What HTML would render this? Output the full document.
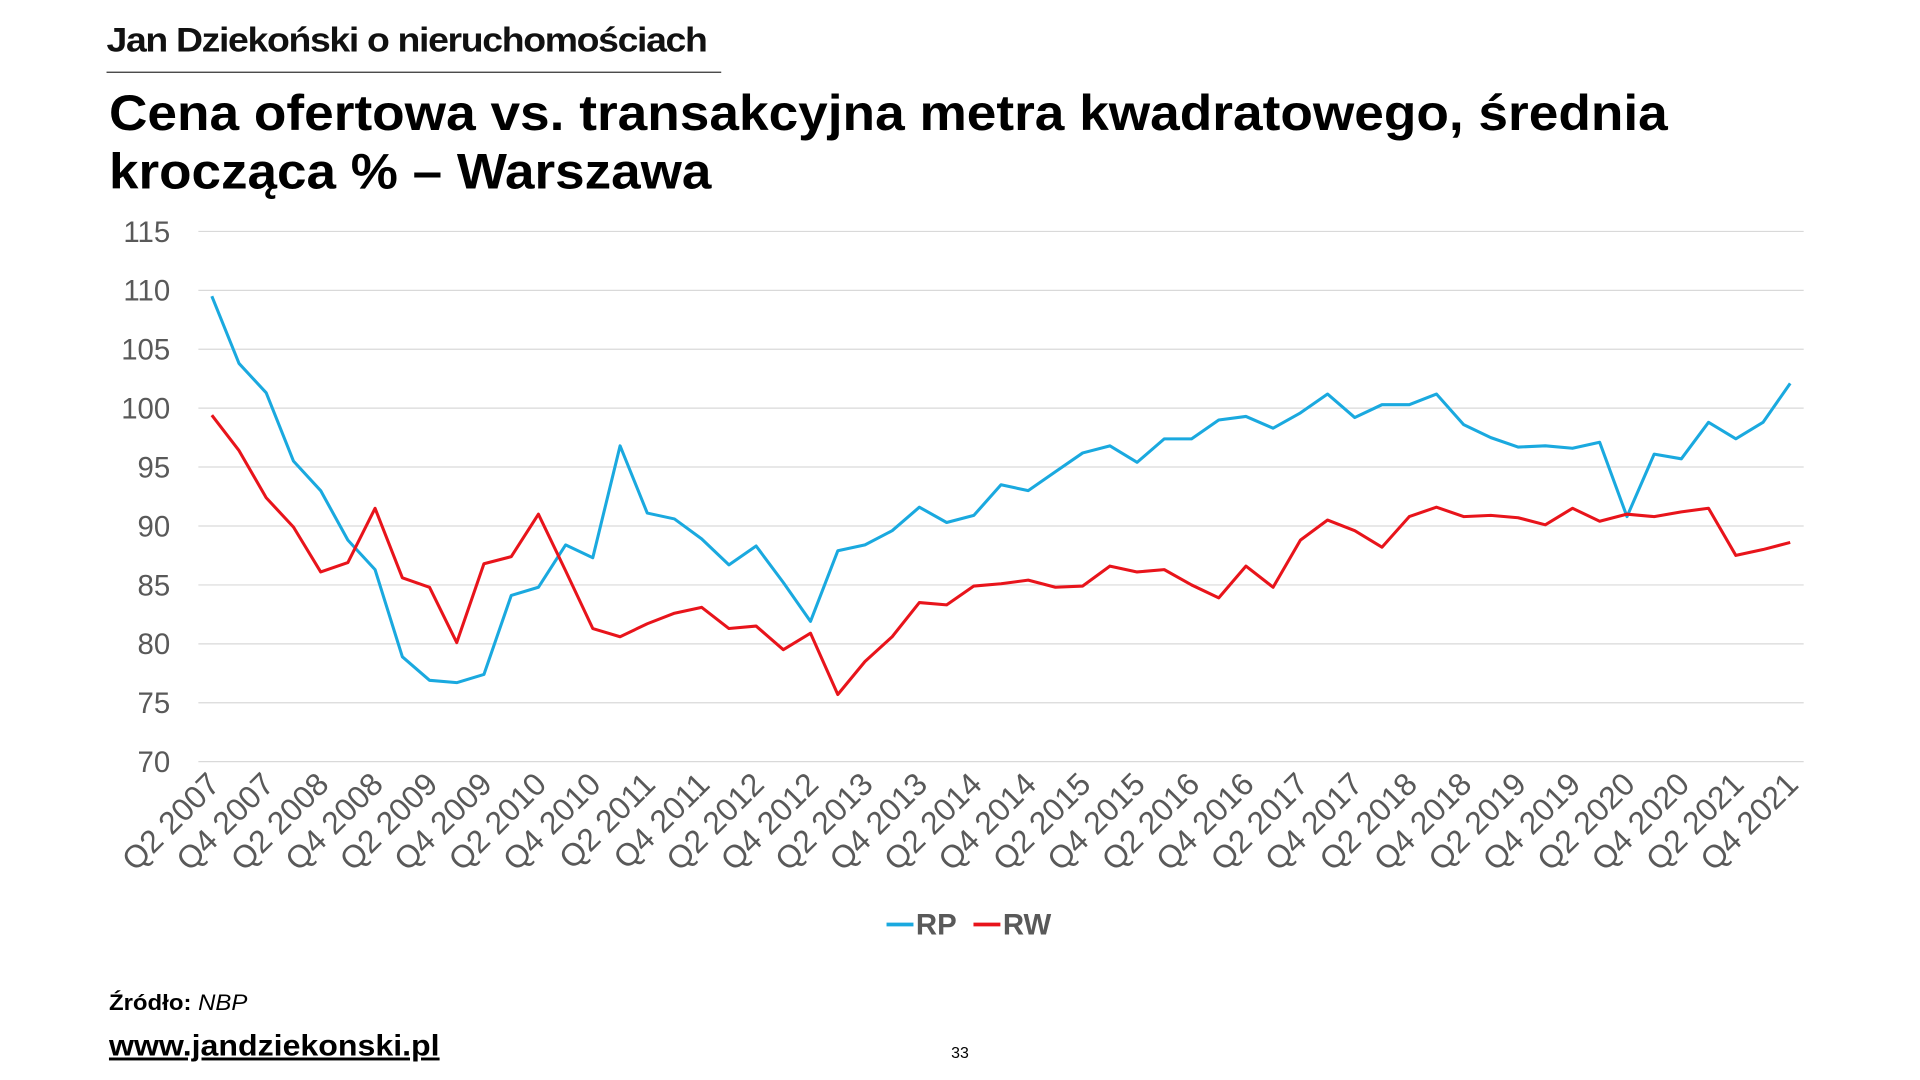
<!DOCTYPE html>
<html><head><meta charset="utf-8"><style>
html,body{margin:0;padding:0;background:#fff;width:1920px;height:1080px;overflow:hidden}
svg text{font-family:"Liberation Sans",sans-serif}
</style></head><body>
<svg id="s" width="1920" height="1080" viewBox="0 0 1568 882" xmlns="http://www.w3.org/2000/svg">
<text x="87" y="42" font-size="28" font-weight="bold" fill="#111" letter-spacing="-1" textLength="490" lengthAdjust="spacingAndGlyphs">Jan Dziekoński o nieruchomościach</text>
<line x1="87" y1="59" x2="589" y2="59" stroke="#333" stroke-width="1"/>
<text x="89" y="106" font-size="41" font-weight="bold" fill="#000" textLength="1273" lengthAdjust="spacingAndGlyphs">Cena ofertowa vs. transakcyjna metra kwadratowego, średnia</text>
<text x="89" y="154" font-size="41" font-weight="bold" fill="#000" textLength="492" lengthAdjust="spacingAndGlyphs">krocząca % – Warszawa</text>
<g id="g"></g>
<line x1="724" y1="755" x2="746" y2="755" stroke="#1aa9df" stroke-width="3"/>
<text x="748" y="763" font-size="24" font-weight="bold" fill="#595959">RP</text>
<line x1="795" y1="755" x2="817" y2="755" stroke="#e8141b" stroke-width="3"/>
<text x="819" y="763" font-size="24" font-weight="bold" fill="#595959">RW</text>
<text x="89" y="825" font-size="18" fill="#000" textLength="113" lengthAdjust="spacingAndGlyphs"><tspan font-weight="bold">Źródło: </tspan><tspan font-style="italic">NBP</tspan></text>
<text x="89" y="862" font-size="24" font-weight="bold" fill="#000" text-decoration="underline" textLength="270" lengthAdjust="spacingAndGlyphs">www.jandziekonski.pl</text>
<text x="784" y="864" font-size="13" fill="#000" text-anchor="middle">33</text>
</svg>
<script>
var RP=[109.5,103.8,101.3,95.5,93,88.8,86.3,78.9,76.9,76.7,77.4,84.1,84.8,88.4,87.3,96.8,91.1,90.6,88.9,86.7,88.3,85.2,81.9,87.9,88.4,89.6,91.6,90.3,90.9,93.5,93,94.6,96.2,96.8,95.4,97.4,97.4,99,99.3,98.3,99.6,101.2,99.2,100.3,100.3,101.2,98.6,97.5,96.7,96.8,96.6,97.1,90.8,96.1,95.7,98.8,97.4,98.8,102.1];
var RW=[99.4,96.4,92.4,89.9,86.1,86.9,91.5,85.6,84.8,80.1,86.8,87.4,91,86.2,81.3,80.6,81.7,82.6,83.1,81.3,81.5,79.5,80.9,75.7,78.5,80.6,83.5,83.3,84.9,85.1,85.4,84.8,84.9,86.6,86.1,86.3,85,83.9,86.6,84.8,88.8,90.5,89.6,88.2,90.8,91.6,90.8,90.9,90.7,90.1,91.5,90.4,91,90.8,91.2,91.5,87.5,88,88.6];
function Y(v){return 622-(v-70)*9.622}
function X(i){return 173+i*1289/58}
var h='';
for(var v=70;v<=115;v+=5){var y=Y(v).toFixed(1);
h+='<line x1="162" y1="'+y+'" x2="1473" y2="'+y+'" stroke="#d9d9d9" stroke-width="1"/>';
h+='<text x="139" y="'+(+y+8.5)+'" font-size="24" fill="#595959" text-anchor="end">'+v+'</text>';}
for(var i=0;i<59;i+=2){var q=(i%4==0)?'Q2 ':'Q4 ';var yr=2007+Math.floor((i+1)/4);
var x=X(i)+8,y=642;
h+='<text transform="translate('+x.toFixed(1)+','+y+') rotate(-45)" font-size="26" fill="#595959" text-anchor="end">'+q+yr+'</text>';}
function P(a,c){var p=a.map(function(v,i){return X(i).toFixed(1)+','+Y(v).toFixed(1)}).join(' ');
return '<polyline points="'+p+'" fill="none" stroke="'+c+'" stroke-width="2.5" stroke-linejoin="round"/>';}
h+=P(RP,'#1aa9df')+P(RW,'#e8141b');
document.getElementById('g').innerHTML=h;
</script>
</body></html>
